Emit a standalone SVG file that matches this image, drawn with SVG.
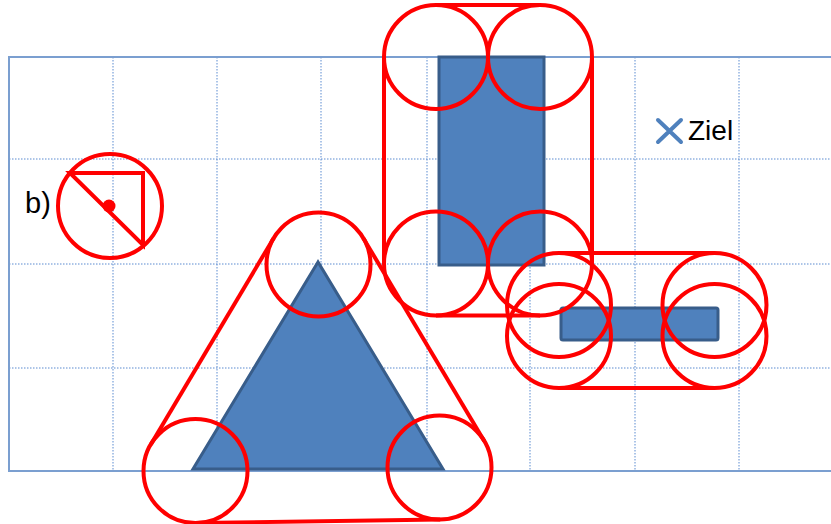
<svg xmlns="http://www.w3.org/2000/svg" width="831" height="524" viewBox="0 0 831 524">
<style>
.grid{stroke:#5b8bd0;stroke-width:1;stroke-dasharray:1.5 1.5;fill:none}
.frame{stroke:#7b9fd0;stroke-width:2;fill:none}
.shape{fill:#4f81bd;stroke:#385d8a;stroke-width:3}
.red{fill:none;stroke:#ff0000;stroke-width:4}
.txt{font-family:"Liberation Sans",Arial,sans-serif;fill:#000}
</style>
<rect width="831" height="524" fill="#ffffff"/>
<g id="grid">
<line class="grid" x1="113" y1="57" x2="113" y2="471"/>
<line class="grid" x1="217" y1="57" x2="217" y2="471"/>
<line class="grid" x1="321" y1="57" x2="321" y2="471"/>
<line class="grid" x1="427" y1="57" x2="427" y2="471"/>
<line class="grid" x1="530" y1="57" x2="530" y2="471"/>
<line class="grid" x1="635" y1="57" x2="635" y2="471"/>
<line class="grid" x1="739" y1="57" x2="739" y2="471"/>
<line class="grid" x1="9" y1="159" x2="831" y2="159"/>
<line class="grid" x1="9" y1="264" x2="831" y2="264"/>
<line class="grid" x1="9" y1="368" x2="831" y2="368"/>
<path class="frame" d="M835,57 H9 V471 H835"/>
</g>
<g id="rect-vertical">
<rect class="shape" x="439" y="57" width="105" height="208"/>
</g>
<g id="triangle">
<polygon class="shape" points="318,262 193,469 443,469"/>
</g>
<g id="rect-horizontal">
<rect class="shape" x="561" y="308" width="157" height="32" rx="2"/>
</g>
<g id="hull-vertical">
<circle class="red" cx="436" cy="57" r="52"/>
<circle class="red" cx="540" cy="57" r="52"/>
<circle class="red" cx="436" cy="263.5" r="52"/>
<circle class="red" cx="540" cy="263.5" r="52"/>
<line class="red" x1="436" y1="5" x2="540" y2="5"/>
<line class="red" x1="436" y1="315.5" x2="540" y2="315.5"/>
<line class="red" x1="384" y1="57" x2="384" y2="263.5"/>
<line class="red" x1="592" y1="57" x2="592" y2="263.5"/>
</g>
<g id="hull-triangle">
<circle class="red" cx="318.5" cy="264.5" r="52"/>
<circle class="red" cx="195.5" cy="471" r="52"/>
<circle class="red" cx="439.5" cy="467.5" r="52"/>
<line class="red" x1="150.8" y1="444.4" x2="273.8" y2="237.9"/>
<line class="red" x1="363.2" y1="237.9" x2="484.2" y2="440.9"/>
<line class="red" x1="196.2" y1="523" x2="440.2" y2="519.5"/>
</g>
<g id="hull-horizontal">
<circle class="red" cx="559" cy="305" r="52"/>
<circle class="red" cx="714.5" cy="305" r="52"/>
<circle class="red" cx="559" cy="336" r="52"/>
<circle class="red" cx="714.5" cy="336" r="52"/>
<line class="red" x1="559" y1="253" x2="714.5" y2="253"/>
<line class="red" x1="559" y1="388" x2="714.5" y2="388"/>
</g>
<g id="robot-b">
<circle class="red" cx="110" cy="206" r="52"/>
<path class="red" d="M70,173 H143 V245 Z" stroke-linejoin="miter"/>
<circle cx="109" cy="206" r="6.5" fill="#ff0000"/>
<text class="txt" x="25" y="213" font-size="29">b)</text>
</g>
<g id="ziel">
<path d="M658,120 L681,142 M681,120 L658,142" stroke="#4f81bd" stroke-width="4" stroke-linecap="round" fill="none"/>
<text class="txt" x="688" y="140" font-size="28">Ziel</text>
</g>
</svg>
